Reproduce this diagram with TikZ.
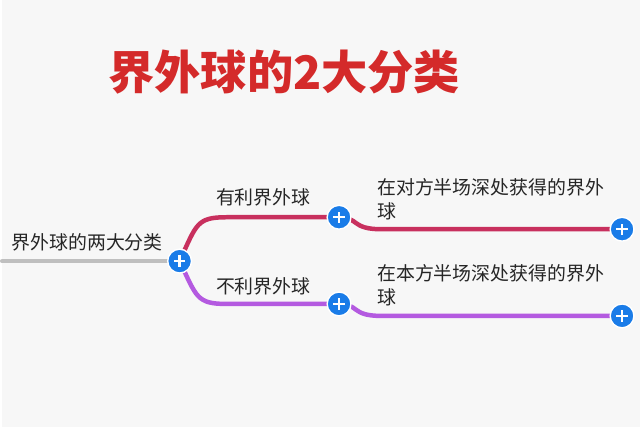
\documentclass[tikz,border=0pt]{standalone}
\usepackage{fontspec}
\setmainfont{Noto Sans CJK SC}
\newfontfamily\titlefont{Noto Sans CJK SC}
\definecolor{bgcol}{HTML}{F7F7F7}
\definecolor{titlered}{HTML}{D42A2A}
\definecolor{upcol}{HTML}{C8305E}
\definecolor{lowcol}{HTML}{B45AE0}
\definecolor{pluscol}{HTML}{1A7CE8}
\tikzset{
  branch/.style={line width=3.2pt, line cap=round},
  lbl/.style={inner sep=0pt, font=\fontsize{13.5}{17}\selectfont, text=black!85},
  plus/.style={circle, fill=pluscol, draw=white, line width=1pt, minimum size=17pt, inner sep=0pt,
    path picture={\draw[white, line width=1.6pt] ([xshift=-4pt]path picture bounding box.center) -- ([xshift=4pt]path picture bounding box.center)
      ([yshift=-4pt]path picture bounding box.center) -- ([yshift=4pt]path picture bounding box.center);}}
}
\begin{document}
\begin{tikzpicture}[x=0.025cm, y=-0.025cm]
  \fill[bgcol] (0,0) rectangle (640,428);
  \node[text=titlered, font=\titlefont\bfseries\fontsize{33}{36}\selectfont] (title) at (283,72) {界外球的2大分类};
  % root
  \coordinate (left) at (0,262);
  \node[lbl, anchor=west] (root) at (9,243) {界外球的两大分类};
  \coordinate (p0) at (178,262);
  \draw[branch, black!25] (left) -- (p0);
  % upper branch
  \coordinate (p1) at (338,218);
  \coordinate (p2) at (622,230);
  \draw[branch, upcol] (p0) .. controls (195,225) and (195,218) .. (225,218) -- (p1)
    .. controls (358,218) and (350,230) .. (380,230) -- (p2);
  \node[lbl] (good) at (262,198) {有利界外球};
  \node[lbl, anchor=north west, align=left] (goodtxt) at (376,179) {在对方半场深处获得的界外\\球};
  % lower branch
  \coordinate (p3) at (338,305);
  \coordinate (p4) at (622,317);
  \draw[branch, lowcol] (p0) .. controls (195,298) and (195,305) .. (225,305) -- (p3)
    .. controls (358,305) and (350,317) .. (380,317) -- (p4);
  \node[lbl] (bad) at (262,287) {不利界外球};
  \node[lbl, anchor=north west, align=left] (badtxt) at (376,265) {在本方半场深处获得的界外\\球};
  % plus buttons
  \foreach \p in {p0,p1,p2,p3,p4}{
    \node[plus] at (\p) {};
  }
\end{tikzpicture}
\end{document}
